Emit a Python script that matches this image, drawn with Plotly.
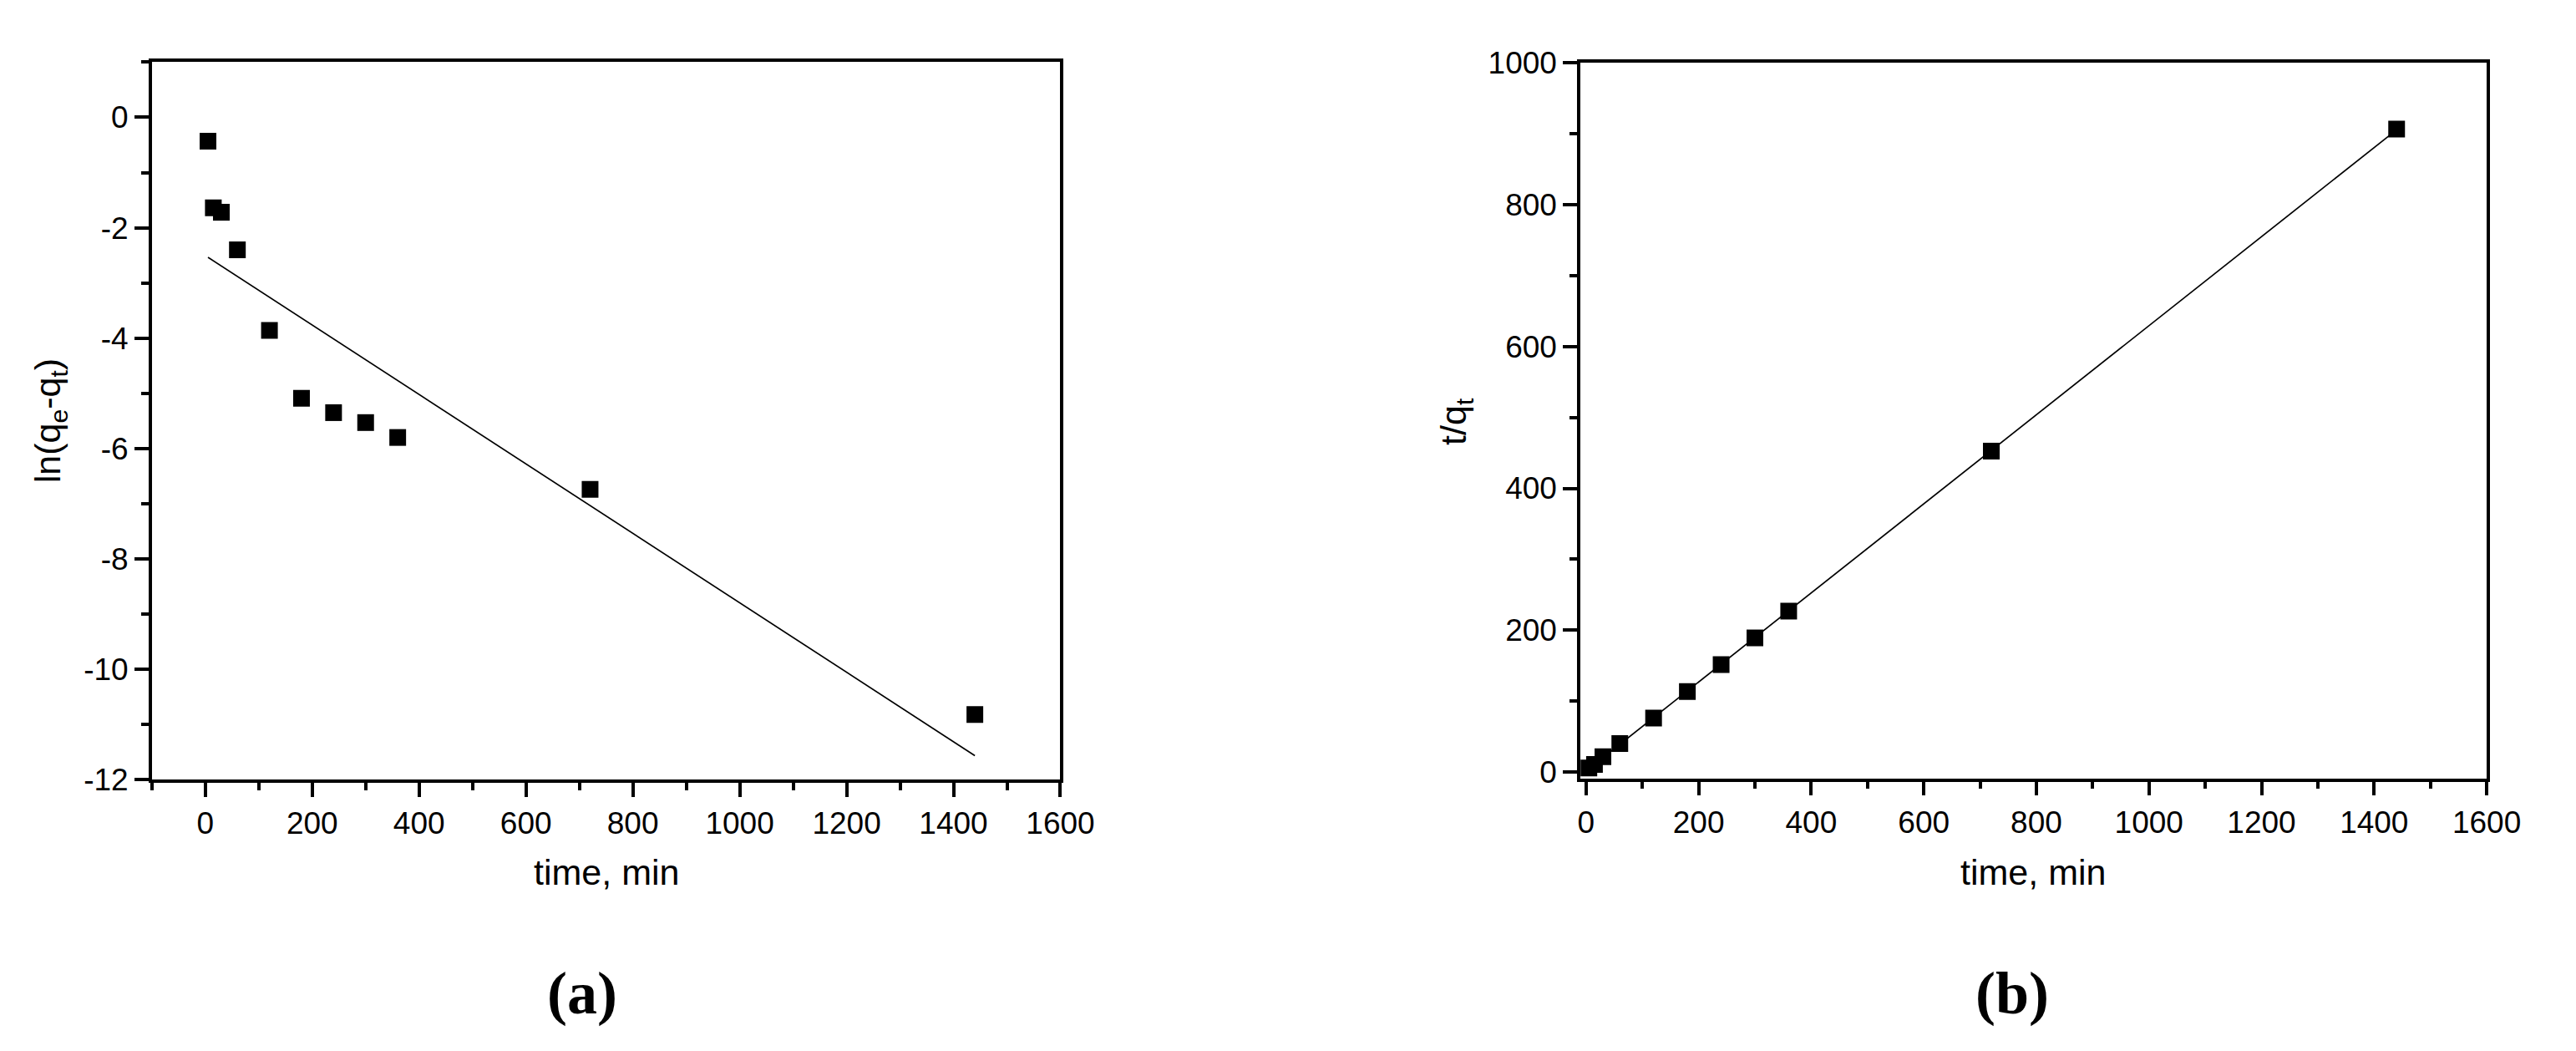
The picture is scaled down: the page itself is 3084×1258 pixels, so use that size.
import numpy as np
import plotly.graph_objects as go

# ---------------- data ----------------
time_min = [5, 15, 30, 60, 120, 180, 240, 300, 360, 720, 1440]
ln_qe_qt = [-0.43, -1.64, -1.72, -2.40, -3.86, -5.09, -5.35, -5.53, -5.80, -6.74, -10.82]
t_over_qt = [5.5, 10.6, 21.5, 40.0, 76.0, 113.3, 151.2, 189.0, 226.8, 452.5, 906.8]

x_tickvals = [0, 200, 400, 600, 800, 1000, 1200, 1400, 1600]
x_ticktext = ["0", "200", "400", "600", "800", "1000", "1200", "1400", "1600"]
ya_tickvals = [0, -2, -4, -6, -8, -10, -12]
ya_ticktext = ["0", "-2", "-4", "-6", "-8", "-10", "-12"]
yb_tickvals = [0, 200, 400, 600, 800, 1000]
yb_ticktext = ["0", "200", "400", "600", "800", "1000"]

# linear fits (as drawn in the original)
ka, ba = np.polyfit(time_min, ln_qe_qt, 1)
kb, bb = np.polyfit(time_min, t_over_qt, 1)
fit_x = [time_min[0], time_min[-1]]
fit_a = [ka * v + ba for v in fit_x]
fit_b = [kb * v + bb for v in fit_x]

W, H = 3084, 1258
TICKFONT = dict(family="Liberation Sans, Arial, sans-serif", size=37, color="black")
TITLEFONT = dict(family="Liberation Sans, Arial, sans-serif", size=43, color="black")

fig = go.Figure()
mk = dict(symbol="square", size=20, color="black", line=dict(width=0))
fig.add_trace(go.Scatter(x=fit_x, y=fit_a, mode="lines", line=dict(color="black", width=1.7),
                         xaxis="x", yaxis="y", showlegend=False, hoverinfo="skip"))
fig.add_trace(go.Scatter(x=time_min, y=ln_qe_qt, mode="markers", marker=mk,
                         xaxis="x", yaxis="y", showlegend=False))
fig.add_trace(go.Scatter(x=fit_x, y=fit_b, mode="lines", line=dict(color="black", width=1.7),
                         xaxis="x2", yaxis="y2", showlegend=False, hoverinfo="skip"))
fig.add_trace(go.Scatter(x=time_min, y=t_over_qt, mode="markers", marker=mk,
                         xaxis="x2", yaxis="y2", showlegend=False))

def ax(domain, rng, tv, tt, minor_dtick, anchor):
    return dict(domain=domain, range=rng, anchor=anchor,
                tickmode="array", tickvals=tv, ticktext=tt,
                ticks="outside", ticklen=17, tickwidth=3.5, tickcolor="black",
                showline=True, linewidth=3.5, linecolor="black", mirror=True,
                showgrid=False, zeroline=False, tickfont=TICKFONT,
                minor=dict(ticks="outside", ticklen=9, tickwidth=3.5, tickcolor="black",
                           tickmode="linear", tick0=0, dtick=minor_dtick, showgrid=False))

fig.update_layout(
    width=W, height=H, margin=dict(l=0, r=0, t=0, b=0),
    paper_bgcolor="white", plot_bgcolor="white",
    xaxis=ax([173.3 / W, 1276.7 / W], [-100, 1600], x_tickvals, x_ticktext, 100, "y"),
    yaxis=ax([(H - 935.7) / H, (H - 48) / H], [-12, 1], ya_tickvals, ya_ticktext, 1, "x"),
    xaxis2=ax([1908.3 / W, 3009 / W], [-10, 1600], x_tickvals, x_ticktext, 100, "y2"),
    yaxis2=ax([(H - 934) / H, (H - 49) / H], [-9, 1000], yb_tickvals, yb_ticktext, 100, "x2"),
)

ann = []
def A(x, y, text, font, angle=0):
    ann.append(dict(x=x / W, y=(H - y) / H, xref="paper", yref="paper", text=text,
                    showarrow=False, font=font, textangle=angle,
                    xanchor="center", yanchor="middle"))

A(725, 1050, "time, min", TITLEFONT)
A(2458, 1050, "time, min", TITLEFONT)
A(50, 492, "ln(q<sub>e</sub>-q<sub>t</sub>)", TITLEFONT, -90)
A(1757, 492, "t/q<sub>t</sub>", TITLEFONT, -90)
LBL = dict(family="Liberation Serif, Times New Roman, serif", size=72, color="black")
A(696, 1200, "<b>(a)</b>", LBL)
A(2433, 1200, "<b>(b)</b>", LBL)
fig.update_layout(annotations=ann)

fig.write_html("out.html")
